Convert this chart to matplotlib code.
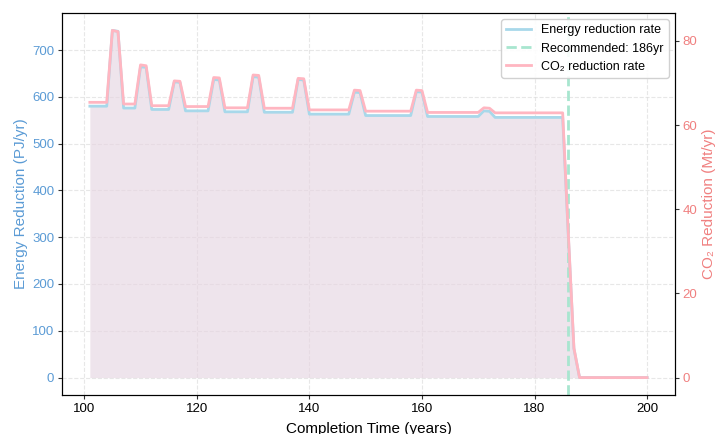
import numpy as np
import matplotlib.pyplot as plt

plt.rcParams['font.family'] = ['Liberation Sans', 'DejaVu Sans']

# completion year -> reduction rates
years = list(range(101, 201))

energy = ([580] * 4 + [742, 740] + [576] * 3 + [664, 663] + [573] * 4 +
          [632, 631] + [570] * 5 + [637, 636] + [568] * 5 + [643, 642] +
          [567] * 6 + [637, 636] + [563] * 8 + [610, 609] + [560] * 9 +
          [611, 610] + [558] * 10 + [570, 569] + [556] * 13 +
          [304, 62] + [0] * 13)

co2 = ([65.4] * 4 + [82.5, 82.2] + [65.0] * 3 + [74.3, 74.1] + [64.6] * 4 +
       [70.5, 70.4] + [64.4] * 5 + [71.3, 71.2] + [64.1] * 5 + [71.9, 71.8] +
       [64.0] * 6 + [71.1, 71.0] + [63.6] * 8 + [68.3, 68.2] + [63.3] * 9 +
       [68.3, 68.2] + [63.0] * 10 + [64.1, 64.0] + [62.9] * 13 +
       [34.4, 7.0] + [0] * 13)

recommended = 186

blue = '#a8d8ea'
pink = '#ffb6c1'
green = '#a8e6cf'

fig = plt.figure(figsize=(7.15, 4.34), dpi=100)
ax = fig.add_axes([0.0867, 0.090, 0.8573, 0.880])
ax2 = ax.twinx()

ax.fill_between(years, energy, color='#e6d6e2', alpha=0.65, lw=0)
l1, = ax.plot(years, energy, color=blue, lw=2, label='Energy reduction rate')
l2 = ax.axvline(recommended, color=green, ls='--', lw=2,
                label=f'Recommended: {recommended}yr')
l3, = ax2.plot(years, co2, color=pink, lw=2, label='CO₂ reduction rate')

ax.set_xlabel('Completion Time (years)', fontsize=11, labelpad=5)
ax.set_ylabel('Energy Reduction (PJ/yr)', fontsize=11, color='#5b9bd5', labelpad=3)
ax2.set_ylabel('CO₂ Reduction (Mt/yr)', fontsize=11, color='#f08080', labelpad=3)
ax.tick_params(axis='y', colors='#5b9bd5', labelsize=9.5)
ax.tick_params(axis='x', labelsize=9.5)
ax2.tick_params(axis='y', colors='#f08080', labelsize=9.5)
for a in (ax, ax2):
    a.tick_params(axis='both', which='both', color='#333333', length=3, pad=2.5)

ax.grid(True, ls='--', color='#dddddd', alpha=0.7, lw=0.8)
ax.set_axisbelow(True)

ax.set_zorder(ax2.get_zorder() - 1)
ax.patch.set_visible(False)
ax2.patch.set_visible(False)
fig.patch.set_facecolor('white')

ax2.legend([l1, l2, l3], [l.get_label() for l in (l1, l2, l3)],
           loc='upper right', fontsize=9, framealpha=0.9)

fig.savefig('out.png', dpi=100)
